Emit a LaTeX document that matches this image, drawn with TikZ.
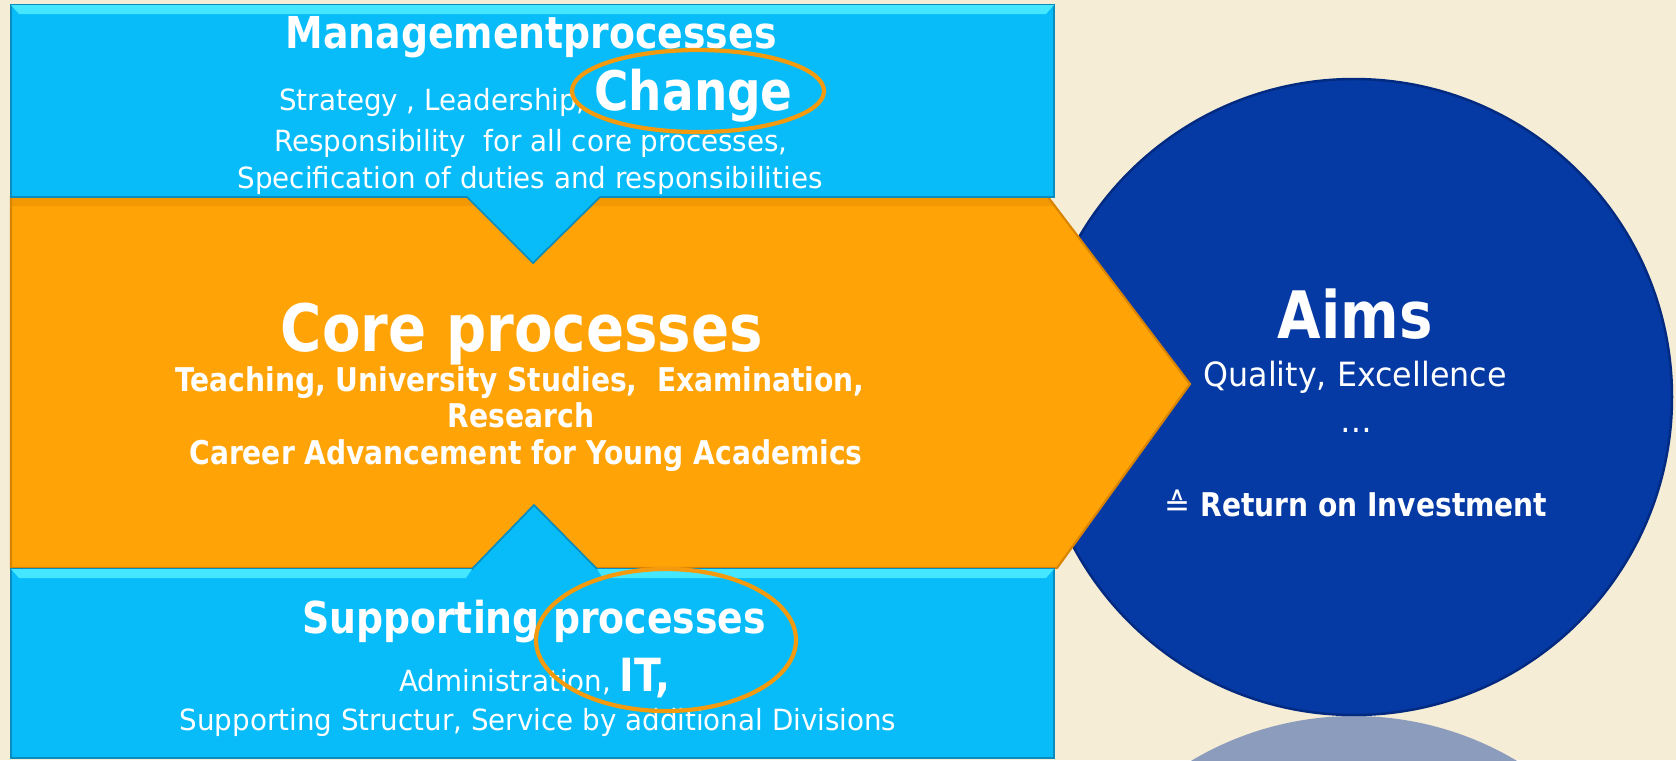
\documentclass[tikz,border=0pt]{standalone}
\usepackage{fontspec}
\setmainfont{DejaVu Sans}[FakeStretch=0.95, BoldFont={DejaVu Sans Bold}, BoldFeatures={FakeStretch=0.86}]
\usepackage{tikz}
\usetikzlibrary{positioning, calc}

\definecolor{slidebg}{HTML}{F5EDD6}
\definecolor{procblue}{HTML}{07BCF9}
\definecolor{procedge}{HTML}{0A8DBE}
\definecolor{bevellight}{HTML}{45E6FF}
\definecolor{coreorange}{HTML}{FFA306}
\definecolor{coreedge}{HTML}{D98400}
\definecolor{aimblue}{HTML}{0539A3}
\definecolor{aimedge}{HTML}{022A80}
\definecolor{ringorange}{HTML}{F39A0E}
\definecolor{mirrorblue}{HTML}{8B9CBC}

\begin{document}
\begin{tikzpicture}[
        x=0.01cm, y=-0.01cm,
        boxtext/.style={anchor=base, inner sep=0pt, text=white, font=\fontsize{8.3}{10}\selectfont},
        headtext/.style={anchor=base, inner sep=0pt, text=white, font=\bfseries\fontsize{12.5}{15}\selectfont},
        coretext/.style={anchor=base, inner sep=0pt, text=white, font=\bfseries\fontsize{9.3}{11}\selectfont},
        titletext/.style={anchor=base, inner sep=0pt, text=white, font=\bfseries\fontsize{18.6}{22}\selectfont},
        aimtext/.style={anchor=base, inner sep=0pt, text=white, font=\fontsize{9.5}{11}\selectfont},
        procbox/.style={fill=procblue, draw=procedge, line width=0.5pt},
        ring/.style={draw=ringorange, line width=1.2pt}
    ]
        % Slide background
        \fill[slidebg] (0,0) rectangle (1676,760);
        \useasboundingbox (0,0) rectangle (1676,760);

        % Aims circle and its mirror image
        \begin{scope}
            \clip (0,0) rectangle (1676,760);
            \fill[mirrorblue] (1354,1034) circle (318);
        \end{scope}
        \fill[aimblue, draw=aimedge, line width=0.7pt] (1354,397) circle (318);

        % Core arrow
        \fill[coreorange, draw=coreedge, line width=0.6pt] (11,197) -- (1048,197) -- (1190,384) -- (1057,568) -- (11,568) -- cycle;
        \fill[coreedge, opacity=0.35] (11,197) -- (1048,197) -- (1054,206) -- (11,206) -- cycle;

        % Management and supporting boxes
        \draw[procbox] (11,5) -- (1054,5) -- (1054,197) -- (600,197) -- (533,263) -- (467,197) -- (11,197) -- cycle;
        \draw[procbox] (11,569) -- (472,569) -- (534,505) -- (597,569) -- (1054,569) -- (1054,758) -- (11,758) -- cycle;
        \fill[bevellight] (11,5) -- (1054,5) -- (1046,14) -- (19,14) -- cycle;
        \fill[bevellight] (11,569) -- (472,569) -- (466,578) -- (19,578) -- cycle;
        \fill[bevellight] (597,569) -- (1054,569) -- (1046,578) -- (603,578) -- cycle;

        % Management processes
        \node[headtext] (mgmtTitle) at (531,48) {Managementprocesses};
        \node[boxtext] (mgmtDuties) at (536,110) {Strategy , Leadership, {\bfseries\fontsize{15.5}{18}\selectfont Change}};
        \node[boxtext] (mgmtCore) at (531,151) {Responsibility\ \ for all core processes,};
        \node[boxtext] (mgmtSpec) at (530,188) {Specification of duties and responsibilities};
        \draw[ring] (698,91) ellipse (126 and 41);

        % Core processes
        \node[titletext] (coreTitle) at (522,351) {Core processes};
        \node[coretext] (coreTeach) at (520,391) {Teaching, University Studies,\ \ Examination,};
        \node[coretext] (coreResearch) at (521,427) {Research};
        \node[coretext] (coreCareer) at (526,464) {Career Advancement for Young Academics};

        % Supporting processes
        \node[headtext] (suppTitle) at (534,633) {Supporting processes};
        \node[boxtext] (suppIT) at (535,691) {Administration, {\bfseries\fontsize{13}{15}\selectfont IT,}};
        \node[boxtext] (suppService) at (538,730) {Supporting Structur, Service by additional Divisions};
        \draw[ring] (666,640) ellipse (130 and 71);

        % Aims
        \node[titletext] (aimsTitle) at (1355,338) {Aims};
        \node[aimtext] (aimsQuality) at (1355,386) {Quality, Excellence};
        \node[aimtext] (aimsDots) at (1356,432) {…};
        \node[coretext] (aimsReturn) at (1356,516) {{\mdseries ≙} Return on Investment};
    \end{tikzpicture}
\end{document}
